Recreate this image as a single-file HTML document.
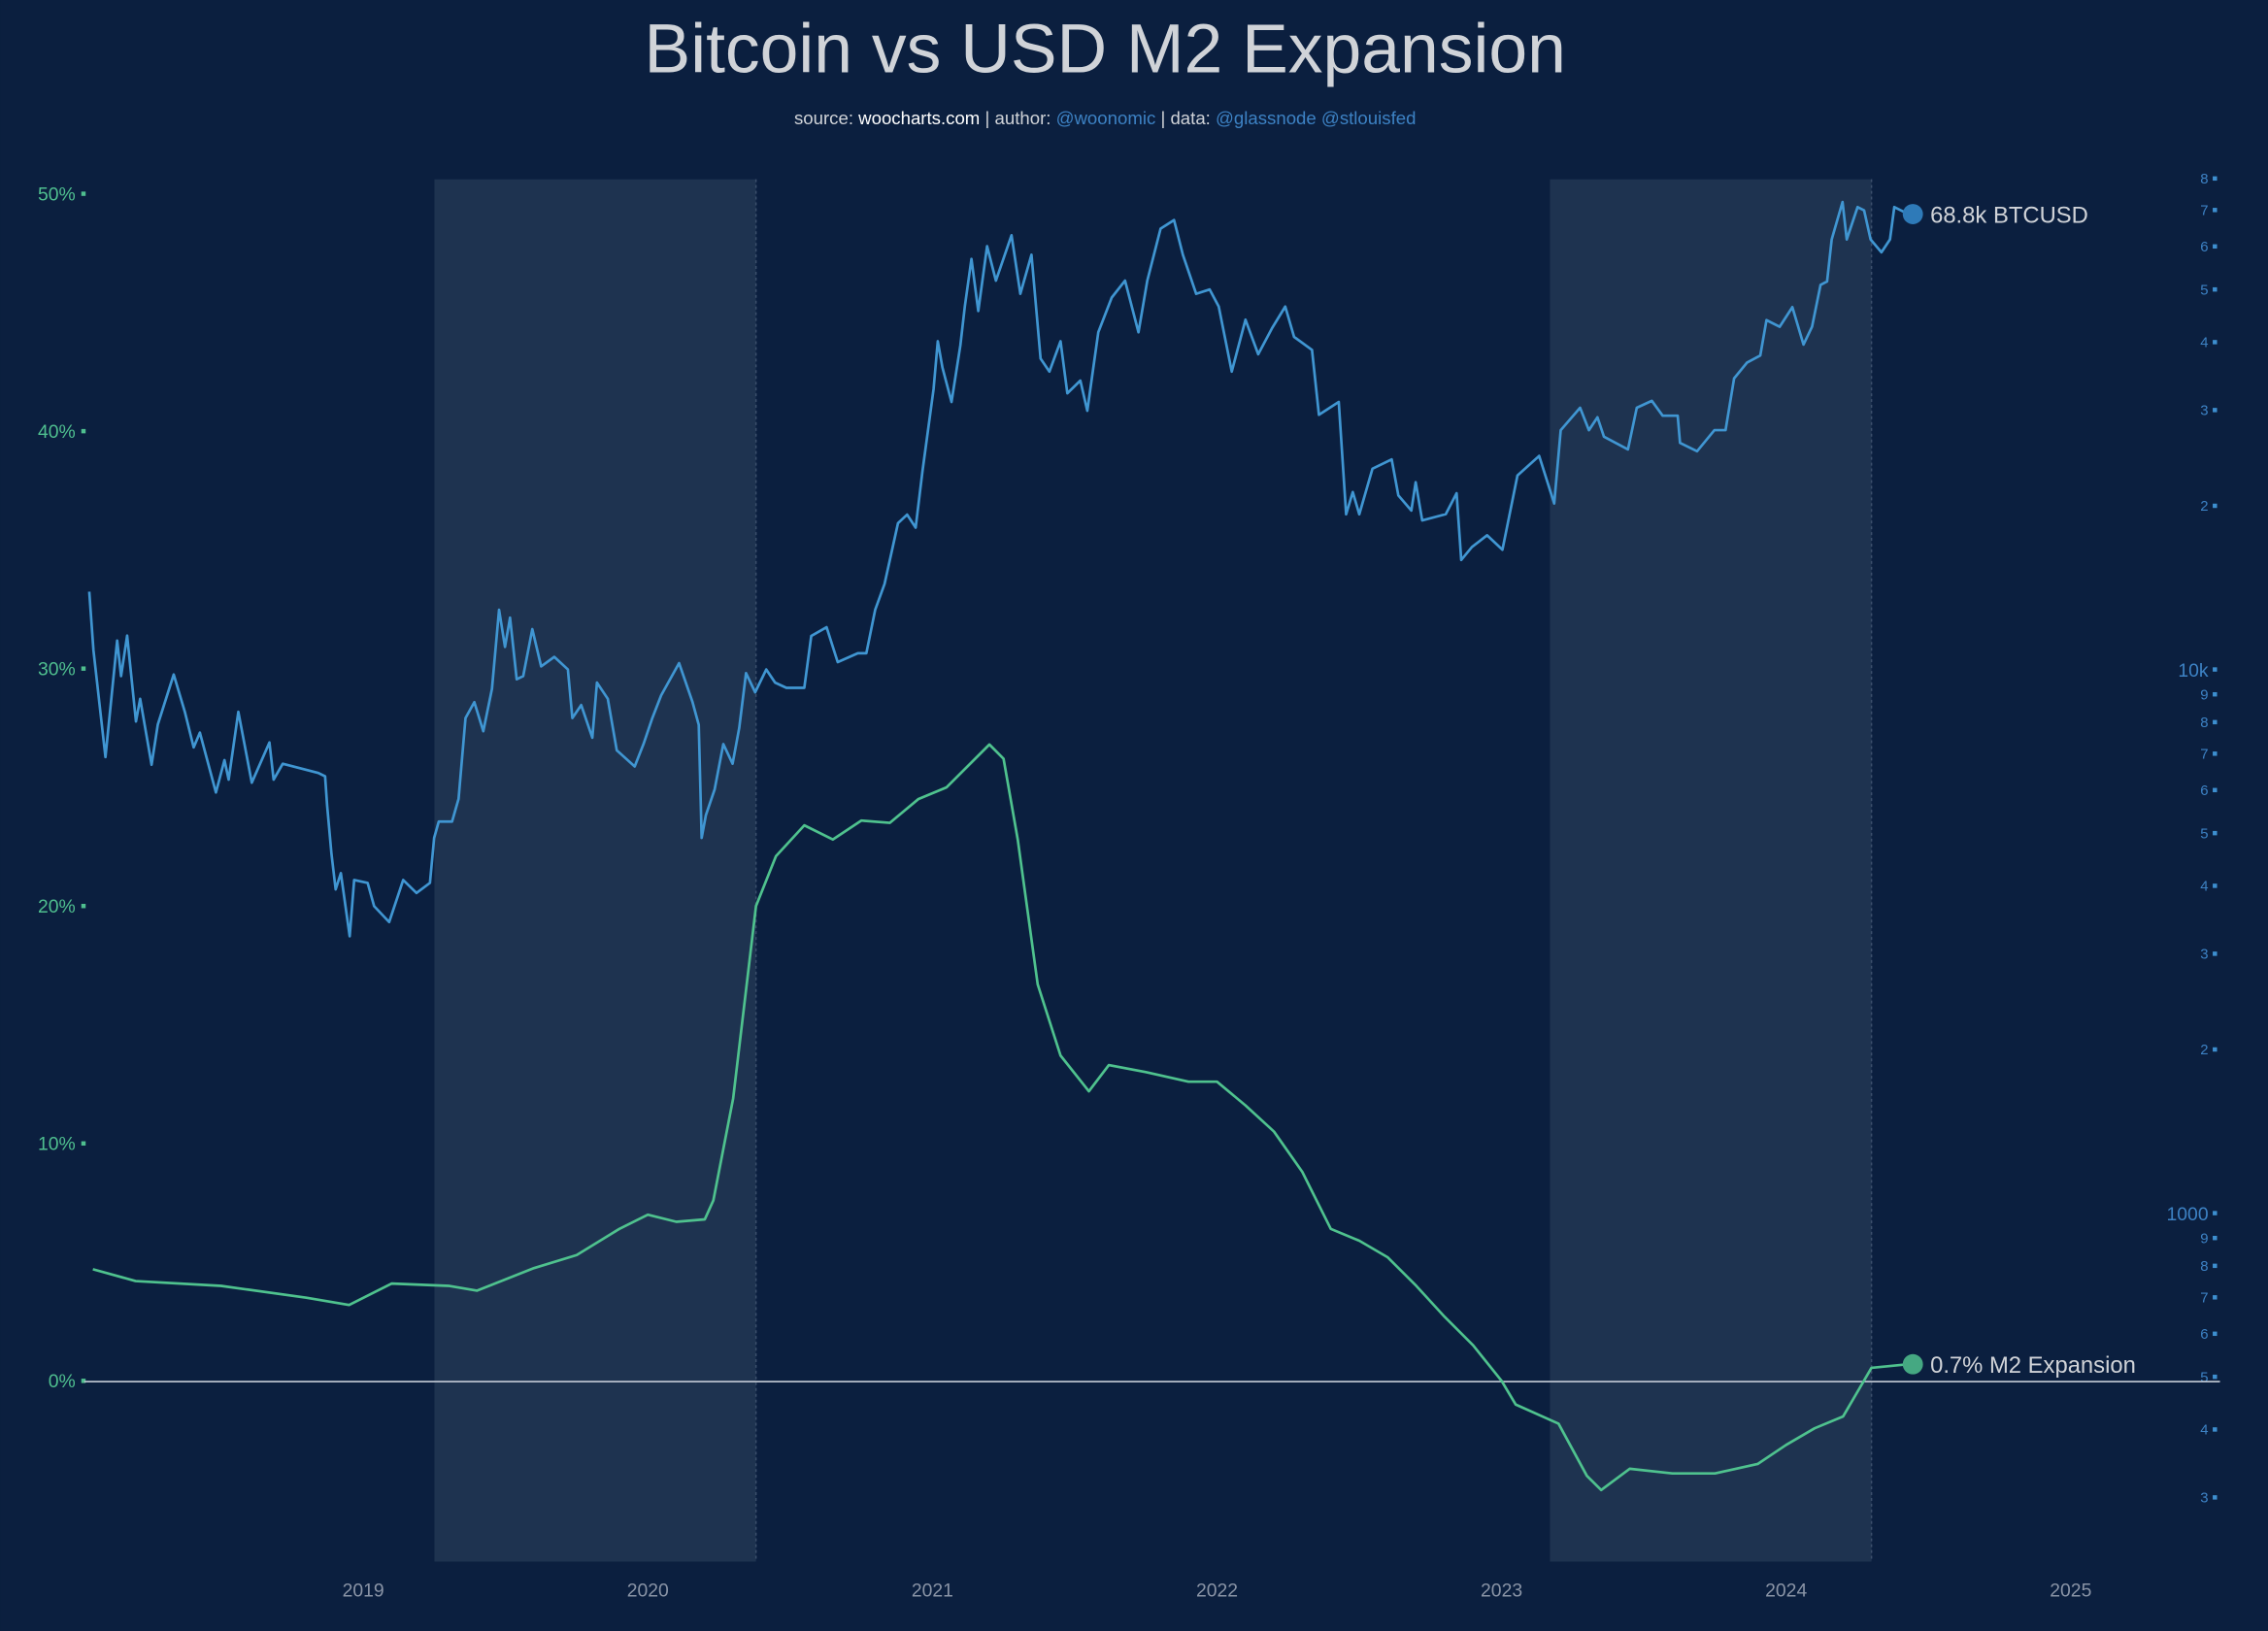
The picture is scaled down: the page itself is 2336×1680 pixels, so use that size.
<!DOCTYPE html>
<html><head><meta charset="utf-8"><style>
html,body{margin:0;padding:0;background:#0b1f3f;}
svg{display:block;font-family:"Liberation Sans",sans-serif;}
</style></head><body>
<svg id="chart" width="2336" height="1680" viewBox="0 0 1568 1128" xmlns="http://www.w3.org/2000/svg">
<rect x="0" y="0" width="1568" height="1128" fill="#0b1f3f"/>
<text x="764" y="50" text-anchor="middle" font-size="48" fill="#d0d3d8">Bitcoin vs USD M2 Expansion</text>
<text x="764" y="86" text-anchor="middle" font-size="12.5" fill="#d0d3d8">source: <tspan fill="#ffffff">woocharts.com</tspan> | author: <tspan fill="#3d82c4">@woonomic</tspan> | data: <tspan fill="#3d82c4">@glassnode @stlouisfed</tspan></text>
<g id="shades"></g>
<g id="leftAxis"></g>
<g id="rightAxis"></g>
<g id="xAxis"></g>
<line x1="58" y1="955.5" x2="1535" y2="955.5" stroke="#b8c0cc" stroke-width="1.2"/>
<g id="series"></g>
</svg>
<script>
const xTicks = [2019,2020,2021,2022,2023,2024,2025];
const leftTicks = [0,10,20,30,40,50];
const shadeRanges = [[2019.25,2020.38],[2023.17,2024.3]];
const btcDates = [2018.037,2018.052,2018.094,2018.135,2018.149,2018.170,2018.201,2018.216,2018.256,2018.278,2018.334,2018.373,2018.404,2018.426,2018.482,2018.512,2018.527,2018.561,2018.608,2018.670,2018.685,2018.717,2018.842,2018.866,2018.873,2018.888,2018.903,2018.921,2018.952,2018.968,2019.015,2019.038,2019.091,2019.140,2019.187,2019.234,2019.249,2019.265,2019.312,2019.335,2019.359,2019.390,2019.422,2019.452,2019.477,2019.498,2019.516,2019.539,2019.562,2019.594,2019.625,2019.671,2019.719,2019.735,2019.766,2019.805,2019.821,2019.859,2019.891,2019.954,2019.985,2020.016,2020.047,2020.110,2020.157,2020.179,2020.189,2020.204,2020.235,2020.265,2020.298,2020.321,2020.345,2020.377,2020.416,2020.447,2020.487,2020.550,2020.574,2020.628,2020.667,2020.738,2020.768,2020.799,2020.832,2020.879,2020.911,2020.941,2020.965,2021.004,2021.019,2021.035,2021.067,2021.098,2021.114,2021.137,2021.161,2021.192,2021.223,2021.278,2021.309,2021.348,2021.380,2021.411,2021.450,2021.474,2021.520,2021.544,2021.583,2021.630,2021.677,2021.724,2021.755,2021.802,2021.849,2021.880,2021.927,2021.974,2022.006,2022.052,2022.100,2022.145,2022.193,2022.240,2022.271,2022.334,2022.358,2022.428,2022.454,2022.477,2022.500,2022.546,2022.614,2022.637,2022.683,2022.698,2022.721,2022.804,2022.842,2022.858,2022.896,2022.949,2023.003,2023.056,2023.132,2023.185,2023.208,2023.276,2023.307,2023.337,2023.360,2023.444,2023.475,2023.528,2023.566,2023.619,2023.627,2023.687,2023.748,2023.787,2023.817,2023.863,2023.909,2023.931,2023.977,2024.022,2024.061,2024.091,2024.121,2024.144,2024.160,2024.198,2024.213,2024.251,2024.274,2024.297,2024.335,2024.365,2024.380,2024.430];
const btcPrices = [13900,10850,6900,11300,9720,11540,8020,8830,6680,7920,9790,8360,7190,7650,5940,6810,6270,8360,6190,7340,6270,6710,6450,6360,5620,4580,3940,4220,3230,4100,4050,3670,3430,4100,3880,4050,4900,5250,5250,5780,8140,8710,7700,9210,12880,11000,12450,9590,9720,11860,10130,10550,10000,8140,8600,7490,9460,8830,7100,6630,7290,8140,8960,10270,8710,7910,4900,5390,6020,7290,6710,7810,9850,9080,10000,9460,9250,9250,11530,11960,10320,10710,10710,12870,14370,18580,19270,18230,23140,32800,40150,35940,31050,39420,46520,56900,45630,60060,51900,62900,49100,57900,37300,35300,40150,32200,34000,29900,41700,48300,51900,41700,51900,64700,67100,57900,49100,50000,46520,35300,44000,38000,42400,46500,40900,38700,29400,31050,19290,21200,19290,23400,24350,20900,19600,22100,18800,19300,21100,15900,16800,17650,16600,22750,24700,20200,27550,30300,27550,29100,26800,25400,30300,31200,29300,29300,26100,25200,27550,27550,34300,36700,37800,43900,42700,46400,39600,42700,51000,51700,61800,72400,61800,70900,69900,61800,58500,61800,70900,68800];
const m2Dates = [2018.05,2018.2,2018.5,2018.8,2018.95,2019.1,2019.3,2019.4,2019.6,2019.75,2019.9,2020.0,2020.1,2020.2,2020.23,2020.3,2020.38,2020.45,2020.55,2020.65,2020.75,2020.85,2020.95,2021.05,2021.15,2021.2,2021.25,2021.3,2021.37,2021.45,2021.55,2021.62,2021.75,2021.9,2022.0,2022.1,2022.2,2022.3,2022.4,2022.5,2022.6,2022.7,2022.8,2022.9,2023.0,2023.05,2023.2,2023.3,2023.35,2023.45,2023.6,2023.75,2023.9,2024.0,2024.1,2024.2,2024.3,2024.43];
const m2Values = [4.7,4.2,4.0,3.5,3.2,4.1,4.0,3.8,4.75,5.3,6.4,7.0,6.7,6.8,7.6,11.9,20,22.1,23.4,22.8,23.6,23.5,24.5,25,26.2,26.8,26.2,22.8,16.7,13.7,12.2,13.3,13.0,12.6,12.6,11.6,10.5,8.8,6.4,5.9,5.2,4.0,2.7,1.5,0,-1,-1.8,-4,-4.6,-3.7,-3.9,-3.9,-3.5,-2.7,-2,-1.5,0.55,0.7];
const rightTicks = [300,400,500,600,700,800,900,1000,2000,3000,4000,5000,6000,7000,8000,9000,10000,20000,30000,40000,50000,60000,70000,80000];
const rightLabels = ["3","4","5","6","7","8","9","1000","2","3","4","5","6","7","8","9","10k","2","3","4","5","6","7","8"];
const btcLast = "68.8k BTCUSD", m2Last = "0.7% M2 Expansion";

const NS="http://www.w3.org/2000/svg";
const X = t => 251 + (t-2019)*196.8;
const YL = v => 955 - v*16.42;
const YR = p => 463 - (Math.log10(p)-4)*376;
function mk(tag, attrs, parent, text){const e=document.createElementNS(NS,tag);for(const k in attrs)e.setAttribute(k,attrs[k]);if(text!==undefined)e.textContent=text;document.getElementById(parent).appendChild(e);return e;}

shadeRanges.forEach(r=>{
  const e=mk('rect',{x:X(r[0]),y:124,width:X(r[1])-X(r[0]),height:956,fill:'#1e3350'},'shades');
  
  
  const l=mk('line',{x1:X(r[1]),y1:124,x2:X(r[1]),y2:1080,stroke:'#3b4e6b','stroke-dasharray':'2,2'},'shades');
  
  
});
leftTicks.forEach(v=>{
  const t=mk('text',{x:52,y:YL(v)+4.5,'text-anchor':'end','font-size':13,fill:'#4fbf8f'},'leftAxis',v+'%');
  
  
  const s=mk('rect',{x:56,y:YL(v)-1.5,width:3,height:3,fill:'#4fbf8f'},'leftAxis');
  
  
});
rightTicks.forEach((p,i)=>{
  const big = rightLabels[i].length>1;
  const t=mk('text',{x:1527,y:YR(p)+(big?5:3.5),'text-anchor':'end','font-size':big?13:10,fill:'#3d82c4'},'rightAxis',rightLabels[i]);
  
  
  const s=mk('rect',{x:1530,y:YR(p)-1.5,width:3,height:3,fill:'#3d8fd0'},'rightAxis');
  
  
});
xTicks.forEach(y=>{
  const t=mk('text',{x:X(y),y:1104,'text-anchor':'middle','font-size':13,fill:'#8a94a6'},'xAxis',String(y));
  
  
});
const nB=Math.min(btcDates.length,btcPrices.length);
let bd_='';
for(let i=0;i<nB;i++) bd_+=(i?'L':'M')+X(btcDates[i]).toFixed(1)+' '+YR(btcPrices[i]).toFixed(1);
const btcPath=mk('path',{d:bd_,fill:'none',stroke:'#4096d2','stroke-width':1.8,'stroke-linejoin':'round'},'series');


const nM=Math.min(m2Dates.length,m2Values.length);
let md_='';
for(let i=0;i<nM;i++) md_+=(i?'L':'M')+X(m2Dates[i]).toFixed(1)+' '+YL(m2Values[i]).toFixed(1);
const m2Path=mk('path',{d:md_,fill:'none',stroke:'#4fc28e','stroke-width':1.8,'stroke-linejoin':'round'},'series');


const bl=nB-1, ml=nM-1;
const bd=mk('circle',{cx:X(btcDates[bl])+3,cy:YR(btcPrices[bl]),r:7,fill:'#2e7ab8'},'series');


const bt=mk('text',{x:X(btcDates[bl])+15,y:YR(btcPrices[bl])+6,'font-size':16,fill:'#d0d3d8'},'series',btcLast);


const md=mk('circle',{cx:X(m2Dates[ml])+3,cy:YL(m2Values[ml]),r:7,fill:'#45a882'},'series');


const mt=mk('text',{x:X(m2Dates[ml])+15,y:YL(m2Values[ml])+6,'font-size':16,fill:'#d0d3d8'},'series',m2Last);


</script>
</body></html>
